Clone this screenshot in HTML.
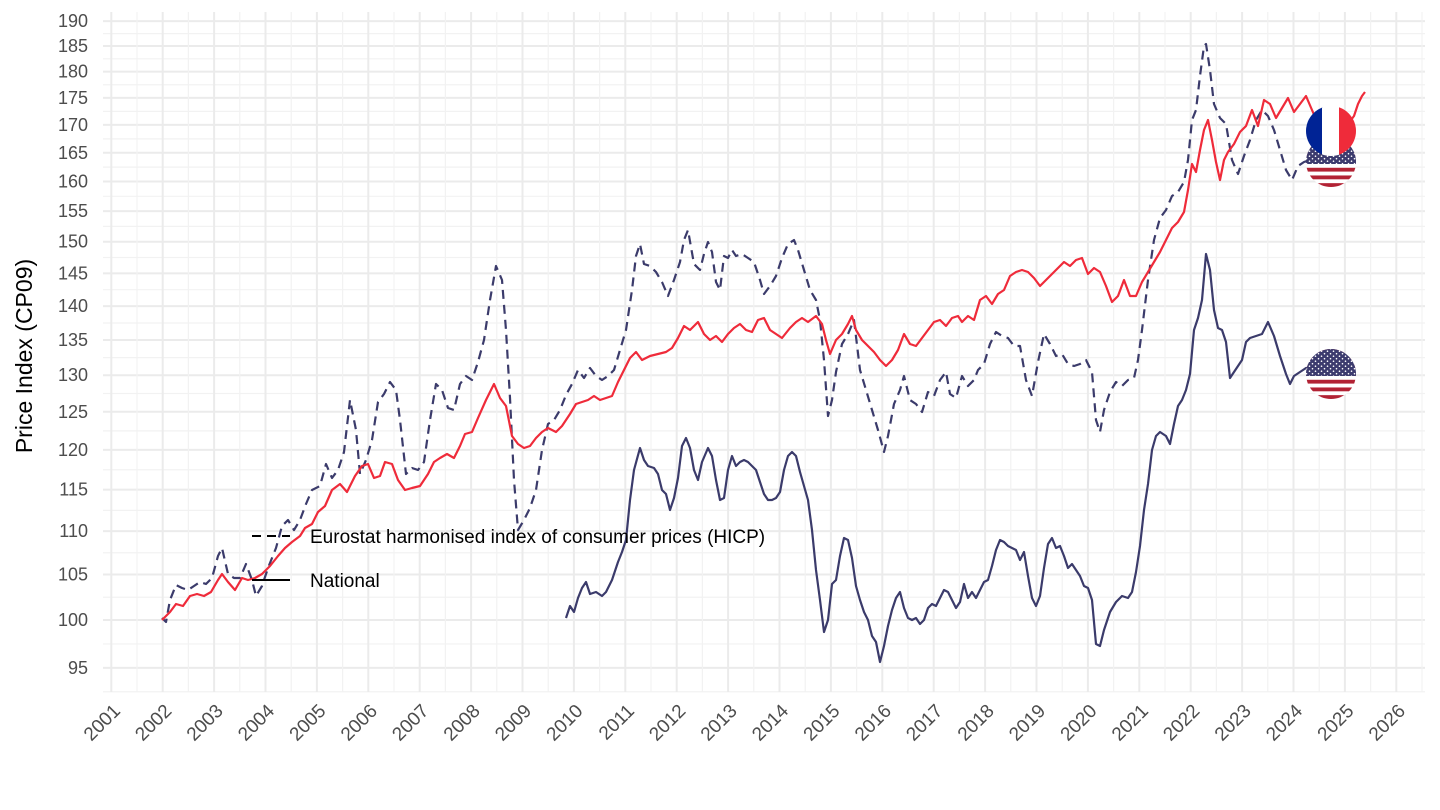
<!DOCTYPE html>
<html><head><meta charset="utf-8"><style>
body{margin:0;background:#fff}
svg{display:block;font-family:"Liberation Sans",sans-serif}
</style></head><body>
<svg id="s" width="1440" height="810" viewBox="0 0 1440 810">
<defs>
<clipPath id="c1"><circle cx="1331" cy="131" r="25"/></clipPath>
<clipPath id="c2"><circle cx="1331" cy="162" r="25"/></clipPath>
<clipPath id="c3"><circle cx="1331" cy="374" r="25"/></clipPath>
<pattern id="stars" width="6" height="5" patternUnits="userSpaceOnUse"><rect width="6" height="5" fill="#3c3b6e"/><circle cx="1.5" cy="1.2" r="0.8" fill="#fff"/><circle cx="4.5" cy="3.7" r="0.8" fill="#fff"/></pattern>
</defs>
<g id="grid"></g>
<g id="series" fill="none" stroke-width="2.2" stroke-linejoin="round">
<polyline stroke="#3b3b6b" stroke-dasharray="9,6" points="162,618 166,622 170,600 176,585 182,588 188,590 194,586 200,582 206,584 212,578 218,556 222,548 228,574 234,578 240,578 246,564 252,580 256,596 262,586 268,568 276,548 282,526 288,520 294,530 300,520 306,504 312,490 320,486 326,464 332,478 338,470 344,452 350,400 356,430 360,474 366,460 372,440 378,402 384,394 390,382 396,390 400,420 406,474 412,468 418,470 424,462 430,420 436,384 442,390 448,408 454,410 460,384 466,376 472,380 478,362 484,340 490,300 496,266 502,280 506,330 510,398 514,480 518,530 524,520 530,508 536,490 542,450 548,424 554,420 560,410 566,395 572,384 578,370 584,378 590,368 596,376 602,380 608,376 614,370 620,350 626,330 632,290 636,256 640,244 644,264 650,266 656,272 662,282 668,296 674,280 680,262 684,240 688,230 694,264 700,270 704,254 708,242 712,252 716,282 720,290 724,256 728,258 732,250 736,256 742,254 748,258 754,262 760,280 764,294 770,286 776,276 782,258 788,244 794,240 798,250 804,270 810,290 816,300 820,320 824,360 828,416 832,400 836,372 842,344 848,334 854,320 860,370 866,390 872,410 878,430 884,452 888,436 894,404 900,390 904,376 910,400 916,404 922,412 928,392 934,396 940,380 946,372 950,394 956,398 962,376 968,386 974,380 978,370 984,364 990,344 996,332 1002,336 1008,338 1014,346 1020,346 1026,380 1032,396 1038,362 1044,334 1050,344 1056,356 1062,354 1068,364 1074,366 1080,364 1086,360 1092,372 1096,420 1100,432 1104,410 1110,392 1116,382 1122,386 1128,380 1134,378 1138,360 1142,330 1148,280 1154,240 1160,218 1166,210 1172,196 1178,192 1184,182 1188,160 1192,120 1196,110 1200,76 1204,46 1206,44 1210,70 1214,104 1220,118 1226,124 1232,160 1238,174 1244,156 1250,140 1256,120 1262,110 1268,116 1274,130 1280,150 1286,170 1292,180 1298,166 1304,162 1310,160"/>
<polyline stroke="#3b3b6b" points="566,618 570,606 574,612 578,598 582,588 586,582 590,594 596,592 602,596 606,592 612,580 618,562 622,552 626,540 630,500 634,470 640,448 644,460 648,466 654,468 658,474 662,490 666,494 670,510 674,498 678,478 682,446 686,438 690,448 694,470 698,480 702,462 708,448 712,456 716,480 720,500 724,498 728,470 732,456 736,466 740,462 744,460 748,462 752,466 756,470 760,482 764,494 768,500 772,500 776,498 780,492 784,470 788,456 792,452 796,456 800,472 804,486 808,500 812,530 816,570 820,600 824,632 828,620 832,584 836,580 840,556 844,538 848,540 852,558 856,586 860,600 864,612 868,620 872,636 876,642 880,662 884,646 888,626 892,610 896,598 900,592 904,608 908,618 912,620 916,618 920,624 924,620 928,608 932,604 936,606 940,598 944,590 948,592 952,600 956,608 960,602 964,584 968,598 972,592 976,598 980,590 984,582 988,580 992,566 996,550 1000,540 1004,542 1008,546 1012,548 1016,550 1020,560 1024,552 1028,576 1032,598 1036,606 1040,596 1044,568 1048,544 1052,538 1056,548 1060,546 1064,556 1068,568 1072,564 1076,570 1080,576 1084,586 1088,588 1092,600 1096,644 1100,646 1104,630 1110,612 1116,602 1122,596 1128,598 1132,592 1136,572 1140,546 1144,510 1148,484 1152,450 1156,436 1160,432 1166,436 1170,444 1174,424 1178,406 1182,400 1186,390 1190,374 1194,330 1198,318 1202,300 1206,254 1210,270 1214,310 1218,328 1222,330 1226,342 1230,378 1234,372 1238,366 1242,360 1246,342 1250,338 1256,336 1262,334 1268,322 1274,336 1280,356 1286,374 1290,384 1294,376 1300,372 1306,368 1310,368"/>
<polyline stroke="#ef2b3a" points="162,620 170,612 176,604 183,606 190,596 197,594 204,596 211,592 218,580 222,574 228,582 235,590 242,578 248,580 255,578 262,574 270,566 278,556 285,548 292,542 300,536 305,528 312,524 318,512 325,506 332,490 340,484 347,492 355,476 362,466 368,464 374,478 380,476 385,462 392,464 398,480 405,490 412,488 420,486 428,474 434,462 440,458 447,454 454,458 460,446 465,434 472,432 478,418 486,400 494,384 500,398 506,406 512,436 518,444 524,448 530,446 536,438 542,432 548,428 556,432 562,426 570,414 576,404 582,402 588,400 594,396 600,400 606,398 612,396 618,382 624,370 630,358 636,352 642,360 650,356 658,354 666,352 672,348 678,338 684,326 690,330 698,322 704,334 710,340 716,336 722,342 728,334 734,328 740,324 746,330 752,332 758,320 764,318 770,330 776,334 782,338 790,328 796,322 802,318 808,322 816,316 822,324 826,340 830,354 836,340 842,334 848,324 852,316 856,330 862,340 868,346 874,352 880,360 886,366 892,360 898,350 904,334 910,344 916,346 922,338 928,330 934,322 940,320 946,326 952,318 958,316 962,322 968,316 974,320 980,300 986,296 992,304 998,294 1004,290 1010,276 1016,272 1022,270 1028,272 1034,278 1040,286 1046,280 1052,274 1058,268 1064,262 1070,266 1076,260 1082,258 1088,274 1094,268 1100,272 1106,286 1112,302 1118,296 1124,280 1130,296 1136,296 1142,282 1148,272 1154,262 1160,252 1166,240 1172,228 1178,222 1184,212 1188,190 1192,164 1196,172 1200,150 1204,130 1208,120 1212,140 1216,162 1220,180 1224,160 1228,152 1234,144 1240,132 1246,126 1252,110 1258,126 1264,100 1270,104 1276,118 1282,108 1288,98 1294,112 1300,104 1306,96 1312,110 1318,124 1324,110 1330,126 1336,120 1342,118 1348,124 1354,116 1358,104 1362,96 1365,92"/>
</g>
<g id="flags"></g>
<g font-size="19" fill="#000">
<line x1="252" y1="536" x2="290" y2="536" stroke="#000" stroke-width="2" stroke-dasharray="9,6"/>
<text x="310" y="543">Eurostat harmonised index of consumer prices (HICP)</text>
<line x1="252" y1="580" x2="290" y2="580" stroke="#000" stroke-width="2"/>
<text x="310" y="587">National</text>
</g>
<text transform="translate(32,356) rotate(-90)" text-anchor="middle" font-size="23" fill="#000">Price Index (CP09)</text>
</svg>
<script>
var ns="http://www.w3.org/2000/svg",g=document.getElementById('grid');
function el(t,a,p,txt){var e=document.createElementNS(ns,t);for(var k in a)e.setAttribute(k,a[k]);if(txt)e.textContent=txt;(p||g).appendChild(e);return e;}
function Y(v){return 620-933*Math.log(v/100);}
function X(y){return 111.3+51.4*(y-2001);}
var L=103,R=1425,T=12,B=692;
for(var v=95;v<=190;v+=5){var y=Y(v);el('line',{x1:L,x2:R,y1:y,y2:y,stroke:'#ebebeb','stroke-width':2});
 el('text',{x:88,y:y+6,'text-anchor':'end','font-size':18,fill:'#4d4d4d'},null,String(v));
 if(v<190){var m=(y+Y(v+5))/2;el('line',{x1:L,x2:R,y1:m,y2:m,stroke:'#f2f2f2','stroke-width':1.2});}}
var m0=Y(95)+(Y(95)-Y(100))/2;el('line',{x1:L,x2:R,y1:m0,y2:m0,stroke:'#f2f2f2','stroke-width':1.2});
for(var yr=2001;yr<=2026;yr++){var x=X(yr);el('line',{x1:x,x2:x,y1:T,y2:B,stroke:'#ebebeb','stroke-width':2});
 var h=x+25.7;if(h<R)el('line',{x1:h,x2:h,y1:T,y2:B,stroke:'#f2f2f2','stroke-width':1.2});
 el('text',{transform:'translate('+(x+10)+',712) rotate(-45)','text-anchor':'end','font-size':19,fill:'#4d4d4d'},null,String(yr));}
var f=document.getElementById('flags');
function us(cy,id){var gg=el('g',{'clip-path':'url(#'+id+')'},f);
 for(var i=0;i<13;i++)el('rect',{x:1300,y:cy-25+i*50/13,width:62,height:50/13+0.3,fill:i%2?'#fff':'#b22234'},gg);
 el('rect',{x:1300,y:cy-25,width:56,height:27,fill:'url(#stars)'},gg);}
us(162,'c2');us(374,'c3');
var fg=el('g',{'clip-path':'url(#c1)'},f);
el('rect',{x:1306,y:106,width:17,height:50,fill:'#002395'},fg);
el('rect',{x:1322,y:106,width:18,height:50,fill:'#fff'},fg);
el('rect',{x:1339,y:106,width:18,height:50,fill:'#ef2b3a'},fg);
</script>
</body></html>
